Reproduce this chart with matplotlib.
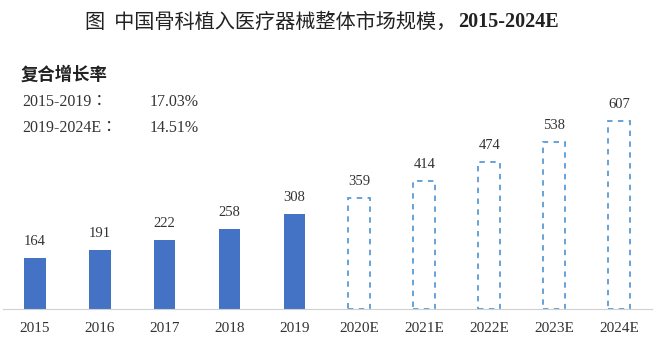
import matplotlib.pyplot as plt

plt.rcParams['font.family'] = ['Liberation Serif', 'Noto Sans CJK SC']

years = ['2015', '2016', '2017', '2018', '2019',
         '2020E', '2021E', '2022E', '2023E', '2024E']
actual = [164, 191, 222, 258, 308]
forecast = [359, 414, 474, 538, 607]
cagr_periods = ['2015-2019：', '2019-2024E：']
cagr_values = ['17.03%', '14.51%']

fig = plt.figure(figsize=(6.58, 3.41), dpi=100)
ax = fig.add_axes([2.5 / 658, 32 / 341, 649 / 658, 217 / 341])

x_act = list(range(len(actual)))
x_fc = list(range(len(actual), len(years)))

ax.bar(x_act, actual, width=0.33, color='#4472C4')
ax.bar(x_fc, forecast, width=0.34, facecolor='none', edgecolor='#5B9BD5',
       linestyle=(0, (3, 3)), linewidth=1.3)

for x, v in zip(x_act + x_fc, actual + forecast):
    ax.annotate(str(v), (x, v), xytext=(0, 7), textcoords='offset points',
                ha='center', va='bottom', fontsize=10.5, color='#333333')

ax.set_xlim(-0.5, len(years) - 0.5)
ax.set_ylim(0, 700)
ax.set_xticks(range(len(years)))
ax.set_xticklabels(years, fontsize=11, color='#333333')
ax.set_yticks([])
ax.tick_params(axis='x', length=0, pad=9)
for s in ['top', 'right', 'left']:
    ax.spines[s].set_visible(False)
ax.spines['bottom'].set_color('#d0d0d0')

# title: Chinese part + bold Times-style year range
ty = 1 - 22 / 341
fig.text(456 / 658, ty, '图  中国骨科植入医疗器械整体市场规模，', ha='right',
         va='center', fontsize=14.5, color='#222222',
         family=['Noto Sans CJK SC'])
fig.text(458 / 658, ty, '2015-2024E', ha='left', va='center',
         fontsize=14.5, fontweight='bold', color='#222222')

fig.text(21 / 658, 1 - 75 / 341, '复合增长率', ha='left', va='center',
         fontsize=12.5, fontweight='bold', color='#222222',
         family=['Noto Sans CJK SC'])
for i, (p, v) in enumerate(zip(cagr_periods, cagr_values)):
    y = 1 - (102 + 26 * i) / 341
    fig.text(22 / 658, y, p, ha='left', va='center', fontsize=11.5,
             color='#333333', family=['Liberation Serif', 'Noto Sans CJK TC'])
    fig.text(150 / 658, y, v, ha='left', va='center', fontsize=11.5,
             color='#333333')

fig.savefig('out.png', dpi=100)
